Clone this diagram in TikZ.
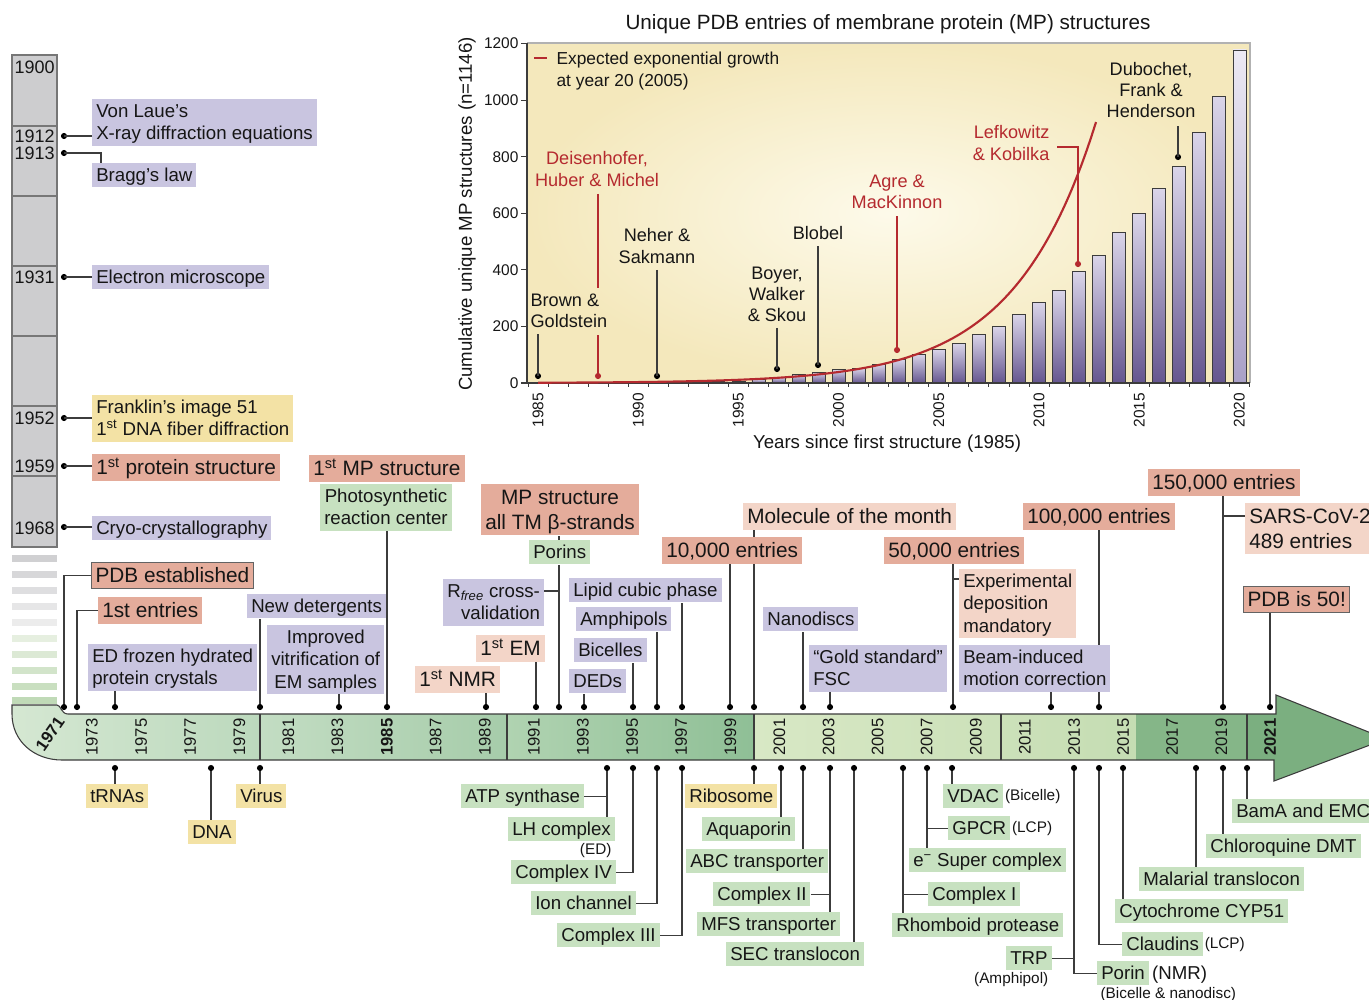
\documentclass[tikz,border=0pt]{standalone}
\usepackage{fontspec}
\setmainfont{Liberation Sans}
\usetikzlibrary{calc}
\pgfdeclarelayer{bottom}
\pgfdeclarelayer{bg}
\pgfsetlayers{bottom,bg,main}
\definecolor{purp}{HTML}{C9C5E0}
\definecolor{salm}{HTML}{E4AC9B}
\definecolor{lsalm}{HTML}{F3D5C8}
\definecolor{yel}{HTML}{F3E2A5}
\definecolor{grn}{HTML}{C7E1C0}
\definecolor{lin}{HTML}{3C3C3C}
\definecolor{txt}{HTML}{161616}
\definecolor{redc}{HTML}{B52A2F}
\definecolor{colgray}{HTML}{CDCDCF}
\definecolor{bandA1}{HTML}{D6E8D3}
\definecolor{bandA2}{HTML}{BCD9BD}
\definecolor{bandB1}{HTML}{C3DDC3}
\definecolor{bandB2}{HTML}{A6CCAA}
\definecolor{bandC1}{HTML}{B0D3B1}
\definecolor{bandC2}{HTML}{8FBF96}
\definecolor{bandD1}{HTML}{D8E8C5}
\definecolor{bandD2}{HTML}{C5DDB3}
\definecolor{bandE}{HTML}{85B688}
\definecolor{bandF}{HTML}{7BAF80}
\definecolor{chartin}{HTML}{FDFAEA}
\definecolor{chartout}{HTML}{F4E8BC}
\definecolor{barT}{HTML}{DAD5E9}
\definecolor{barB}{HTML}{65568F}
\definecolor{barLT}{HTML}{ECE9F3}
\definecolor{barLB}{HTML}{A9A0C7}
\newcommand{\fntN}{\fontsize{14}{16.8}\selectfont}
\newcommand{\fntB}{\fontsize{15.6}{18.7}\selectfont}
\newcommand{\fntS}{\fontsize{11.5}{13}\selectfont}
\newcommand{\fntY}{\fontsize{12.5}{14}\selectfont}
\newcommand{\fntT}{\fontsize{11.6}{13}\selectfont}
\newcommand{\fntC}{\fontsize{13.6}{15.8}\selectfont}
\newcommand{\fntL}{\fontsize{13.5}{15}\selectfont}
\newcommand{\fntG}{\fontsize{13}{16.5}\selectfont}
\newcommand{\topS}{\rule{0pt}{13.2pt}}
\newcommand{\botS}{\rule[-4pt]{0pt}{4pt}}
\newcommand{\topB}{\rule{0pt}{14.9pt}}
\newcommand{\botB}{\rule[-3.8pt]{0pt}{3.8pt}}
\tikzset{
 box/.style={anchor=north west, inner xsep=3pt, inner ysep=0.4pt, font=\fntN, text=txt, align=left,
   execute at begin node={\topS}, execute at end node={\botS}},
 bigbox/.style={box, font=\fntB, inner ysep=0.4pt,
   execute at begin node={\topB}, execute at end node={\botB}},
 pu/.style={box, fill=purp},
 gr/.style={box, fill=grn},
 ye/.style={box, fill=yel},
 sa/.style={bigbox, fill=salm},
 ls/.style={bigbox, fill=lsalm},
 conn/.style={draw=lin, line width=0.9pt},
 dotc/.style={circle, fill=black, inner sep=0pt, minimum size=4.6pt},
 yr/.style={font=\fntY, text=txt, rotate=90, inner sep=0pt},
 small/.style={font=\fntS, text=txt, inner sep=1pt},
 ann/.style={font=\fntC, text=txt, align=center, inner sep=1pt},
 rann/.style={ann, text=redc},
 tick/.style={font=\fntT, text=txt, inner sep=1pt},
 colyr/.style={font=\fntL, text=txt, anchor=east, inner sep=0pt},
 achart/.style={draw=lin, line width=0.8pt},
 rchart/.style={draw=redc, line width=0.8pt},
}
\begin{document}
\begin{tikzpicture}[x=0.75pt,y=-0.75pt]
\useasboundingbox (0,0) rectangle (1369,999);
\begin{pgfonlayer}{bottom}
\fill[white] (0,0) rectangle (1369,999);
\shade[inner color=chartin, outer color=chartout] (527,43) rectangle (1250,383);
\end{pgfonlayer}

% ---------------- left column ----------------
\draw[draw=lin!70, fill=colgray, line width=0.8pt] (12,55) rectangle (57,547);
\foreach \yy in {126,196,266,336,406,476} \draw[lin!70, line width=0.8pt] (12,\yy) -- (57,\yy);
\foreach \yy/\cc in {555/D0D0D2,571/D7D7D9,587/DEDEE0,603/E6E6E7,619/ECECEC,635/E6EFE0,651/DCE9D5,667/D2E4CA,683/C9DFC0,697/C0DAB7}{\definecolor{tmpc}{HTML}{\cc}\fill[tmpc] (12,\yy) rectangle (57,{\yy+7});}
\node[colyr] (c1900) at (55,67) {1900};
\node[colyr] (c1912) at (55,136) {1912};
\node[colyr] (c1913) at (55,153) {1913};
\node[colyr] (c1931) at (55,277) {1931};
\node[colyr] (c1952) at (55,418) {1952};
\node[colyr] (c1959) at (55,466) {1959};
\node[colyr] (c1968) at (55,528) {1968};

\node[pu] (vonlaue) at (92,99) {\topS Von Laue’s\\X-ray diffraction equations\botS};
\node[pu] (bragg) at (92,163) {Bragg’s law};
\node[pu] (electron) at (92,265) {Electron microscope};
\node[ye] (franklin) at (92,395) {\topS Franklin’s image 51\\1\textsuperscript{st} DNA fiber diffraction\botS};
\node[sa] (protein1) at (92,454) {1\textsuperscript{st} protein structure};
\node[pu] (cryo) at (92,516) {Cryo-crystallography};

\node[dotc] (d1912) at (64,136) {};
\node[dotc] (d1913) at (64,153) {};
\node[dotc] (d1931) at (64,277) {};
\node[dotc] (d1952) at (64,418) {};
\node[dotc] (d1959) at (64,466) {};
\node[dotc] (d1968) at (64,527) {};
\coordinate (bk) at (101,153);
\draw[conn] (d1912.center) -- (d1912.center -| vonlaue.west);
\draw[conn] (d1913.center) -- (bk) -- (bk |- bragg.north);
\draw[conn] (d1931.center) -- (d1931.center -| electron.west);
\draw[conn] (d1952.center) -- (d1952.center -| franklin.west);
\draw[conn] (d1959.center) -- (d1959.center -| protein1.west);
\draw[conn] (d1968.center) -- (d1968.center -| cryo.west);

% ---------------- timeline band ----------------
\begin{scope}
\clip (12,705) -- (57,705) .. controls (61,705) and (61,714) .. (68,714) -- (1276,714) -- (1276,695) -- (1386,739) -- (1274,781) -- (1274,760) -- (62,760) .. controls (34,760) and (12,741) .. (12,714) -- cycle;
\shade[left color=bandA1, right color=bandA2] (0,690) rectangle (260,790);
\shade[left color=bandB1, right color=bandB2] (260,690) rectangle (507,790);
\shade[left color=bandC1, right color=bandC2] (507,690) rectangle (754,790);
\shade[left color=bandD1, right color=bandD2] (754,690) rectangle (1136,790);
\fill[bandE] (1136,690) rectangle (1247,790);
\fill[bandF] (1247,690) rectangle (1400,790);
\end{scope}
\draw[lin, line width=0.8pt] (12,705) -- (57,705) .. controls (61,705) and (61,714) .. (68,714) -- (1276,714) -- (1276,695) -- (1386,739) -- (1274,781) -- (1274,760) -- (62,760) .. controls (34,760) and (12,741) .. (12,714) -- cycle;
\foreach \xx in {260,507,754,1001,1247} \draw[lin, line width=0.8pt] (\xx,714) -- (\xx,760);
\foreach \yr in {1973,1975,1977,1979,1981,1983,1987,1989,1991,1993,1995,1997,1999,2001,2003,2005,2007,2009,2011,2013,2015,2017,2019}
  \node[yr] (yr\yr) at ({92+(\yr-1973)*24.55},737) {\yr};
\node[yr, font=\fntY\bfseries] (yr1985) at (387,737) {1985};
\node[yr, font=\fntY\bfseries] (yr2021) at (1270,737) {2021};
\node[font=\fntY\bfseries, text=txt, rotate=55, inner sep=0pt] (yr1971) at (50,734) {1971};

% ---------------- upper boxes ----------------
\node[sa, draw=lin!80, line width=0.8pt] (pdbest) at (91,562) {PDB established};
\node[sa] (entries1) at (98,597) {1st entries};
\node[pu] (edfrozen) at (88,644) {\topS ED frozen hydrated\\protein crystals\botS};
\node[pu] (newdet) at (247,594) {New detergents};
\node[pu, align=center] (improved) at (267,625) {\topS Improved\\vitrification of\\EM samples\botS};
\node[sa] (mp1) at (309,455) {1\textsuperscript{st} MP structure};
\node[gr, align=center] (photo) at (320,484) {\topS Photosynthetic\\reaction center\botS};
\node[ls] (nmr1) at (415,666) {1\textsuperscript{st} NMR};
\node[ls] (em1) at (476,635) {1\textsuperscript{st} EM};
\node[pu, align=right] (rfree) at (443,579) {\topS R\textsubscript{\textit{free}} cross-\\validation\botS};
\node[sa, align=center] (mpbeta) at (481,484) {\topB MP structure\\all TM β-strands\botB};
\node[gr] (porins) at (529,540) {Porins};
\node[pu] (deds) at (569,669) {DEDs};
\node[pu] (bicelles) at (574,638) {Bicelles};
\node[pu] (amphipols) at (576,607) {Amphipols};
\node[pu] (lcp) at (569,578) {Lipid cubic phase};
\node[sa] (e10k) at (662,537) {10,000 entries};
\node[ls] (motm) at (743,503) {Molecule of the month};
\node[pu] (nanodiscs) at (763,607) {Nanodiscs};
\node[pu] (gold) at (809,645) {\topS “Gold standard”\\FSC\botS};
\node[sa] (e50k) at (884,537) {50,000 entries};
\node[box, fill=lsalm] (expdep) at (959,569) {\topS Experimental\\deposition\\mandatory\botS};
\node[pu] (beam) at (959,645) {\topS Beam-induced\\motion correction\botS};
\node[sa] (e100k) at (1023,503) {100,000 entries};
\node[sa] (e150k) at (1148,469) {150,000 entries};
\node[ls] (sars) at (1245,503) {\topB SARS-CoV-2\\489 entries\botB};
\node[sa, draw=lin!80, line width=0.8pt] (pdb50) at (1243,586) {PDB is 50!};

\foreach \xx in {64,77,115,260,339,387,486,536,559,584,633,657,682,730,754,803,830,953,1051,1099,1223,1270}
  \node[dotc] (u\xx) at (\xx,707) {};

% ---------------- lower boxes ----------------
\node[ye] (trna) at (86,784) {tRNAs};
\node[ye] (dna) at (188,820) {DNA};
\node[ye] (virus) at (236,784) {Virus};
\node[gr] (atp) at (461,784) {ATP synthase};
\node[gr] (lh) at (508,817) {LH complex};
\node[small, anchor=north east] (edl) at ($(lh.south east)+(-2,0)$) {(ED)};
\node[gr] (c4) at (511,860) {Complex IV};
\node[gr] (ion) at (531,891) {Ion channel};
\node[gr] (c3) at (557,923) {Complex III};
\node[ye] (ribo) at (685,784) {Ribosome};
\node[gr] (aqua) at (702,817) {Aquaporin};
\node[gr] (abc) at (686,849) {ABC transporter};
\node[gr] (c2) at (713,882) {Complex II};
\node[gr] (mfs) at (697,912) {MFS transporter};
\node[gr] (sec) at (726,942) {SEC translocon};
\node[gr] (vdac) at (943,784) {VDAC};
\node[small, anchor=west] (vdacn) at (vdac.east) {(Bicelle)};
\node[gr] (gpcr) at (948,816) {GPCR};
\node[small, anchor=west] (gpcrn) at (gpcr.east) {(LCP)};
\node[gr] (esuper) at (909,848) {e\textsuperscript{−} Super complex};
\node[gr] (c1) at (928,882) {Complex I};
\node[gr] (rhomb) at (892,913) {Rhomboid protease};
\node[gr] (trp) at (1006,946) {TRP};
\node[small, anchor=north east] (trpn) at ($(trp.south east)+(-2,0)$) {(Amphipol)};
\node[gr] (porin) at (1097,961) {Porin};
\node[box, anchor=west, inner xsep=2pt] (porinn) at (porin.east) {(NMR)};
\node[small, anchor=north west] (porinb) at ($(porin.south west)+(2,0)$) {(Bicelle \& nanodisc)};
\node[gr] (claud) at (1122,932) {Claudins};
\node[small, anchor=west] (claudn) at (claud.east) {(LCP)};
\node[gr] (cyp) at (1115,899) {Cytochrome CYP51};
\node[gr] (malar) at (1139,867) {Malarial translocon};
\node[gr] (chloro) at (1206,834) {Chloroquine DMT};
\node[gr] (bama) at (1232,799) {BamA and EMC};

\foreach \xx in {115,211,260,607,633,657,682,754,781,803,830,854,903,927,952,1074,1099,1123,1196,1223,1247}
  \node[dotc] (l\xx) at (\xx,768) {};

\coordinate (rfj) at (559,591);
\coordinate (edj) at (953,579);
\coordinate (sj) at (1223,516);

\begin{pgfonlayer}{bg}
\draw[conn] (u64.center) |- (pdbest.west);
\draw[conn] (u77.center) |- (entries1.west);
\draw[conn] (u115.center) -- (u115.center |- edfrozen.south);
\draw[conn] (u260.center) -- (u260.center |- newdet.south);
\draw[conn] (u339.center) -- (u339.center |- improved.south);
\draw[conn] (u387.center) -- (u387.center |- photo.south);
\draw[conn] (u486.center) -- (u486.center |- nmr1.south);
\draw[conn] (u536.center) -- (u536.center |- em1.south);
\draw[conn] (u559.center) -- (u559.center |- porins.south);
\draw[conn] (u559.center |- porins.north) -- (u559.center |- mpbeta.south);
\draw[conn] (rfj) -- (rfj -| rfree.east);
\draw[conn] (u584.center) -- (u584.center |- deds.south);
\draw[conn] (u633.center) -- (u633.center |- bicelles.south);
\draw[conn] (u657.center) -- (u657.center |- amphipols.south);
\draw[conn] (u682.center) -- (u682.center |- lcp.south);
\draw[conn] (u730.center) -- (u730.center |- e10k.south);
\draw[conn] (u754.center) -- (u754.center |- motm.south);
\draw[conn] (u803.center) -- (u803.center |- nanodiscs.south);
\draw[conn] (u830.center) -- (u830.center |- gold.south);
\draw[conn] (u953.center) -- (u953.center |- e50k.south);
\draw[conn] (edj) -- (edj -| expdep.west);
\draw[conn] (u1051.center) -- (u1051.center |- beam.south);
\draw[conn] (u1099.center) -- (u1099.center |- e100k.south);
\draw[conn] (u1223.center) -- (u1223.center |- e150k.south);
\draw[conn] (sj) -- (sj -| sars.west);
\draw[conn] (u1270.center) -- (u1270.center |- pdb50.south);
% lower
\draw[conn] (l115.center) -- (l115.center |- trna.north);
\draw[conn] (l211.center) -- (l211.center |- dna.north);
\draw[conn] (l260.center) -- (l260.center |- virus.north);
\draw[conn] (l607.center) -- (l607.center |- lh.north);
\draw[conn] (atp.east) -- (atp.east -| l607.center);
\draw[conn] (l633.center) |- (c4.east);
\draw[conn] (l657.center) |- (ion.east);
\draw[conn] (l682.center) |- (c3.east);
\draw[conn] (l754.center) -- (l754.center |- ribo.north);
\draw[conn] (l781.center) -- (l781.center |- aqua.north);
\draw[conn] (l803.center) -- (l803.center |- abc.north);
\draw[conn] (l830.center) -- (l830.center |- mfs.north);
\draw[conn] (c2.east) -- (c2.east -| l830.center);
\draw[conn] (l854.center) -- (l854.center |- sec.north);
\draw[conn] (l903.center) -- (l903.center |- rhomb.north);
\draw[conn] (c1.west) -- (c1.west -| l903.center);
\draw[conn] (l927.center) -- (l927.center |- esuper.north);
\draw[conn] (gpcr.west) -- (gpcr.west -| l927.center);
\draw[conn] (l952.center) -- (l952.center |- vdac.north);
\draw[conn] (l1074.center) |- (porin.west);
\draw[conn] (trp.east) -- (trp.east -| l1074.center);
\draw[conn] (l1099.center) |- (claud.west);
\draw[conn] (l1123.center) -- (l1123.center |- cyp.north);
\draw[conn] (l1196.center) -- (l1196.center |- malar.north);
\draw[conn] (l1223.center) -- (l1223.center |- chloro.north);
\draw[conn] (l1247.center) -- (l1247.center |- bama.north);
\end{pgfonlayer}

% ---------------- chart ----------------
\node[font=\fontsize{15.5}{18}\selectfont, text=txt] (title) at (888,24) {Unique PDB entries of membrane protein (MP) structures};
\node[font=\fntN, text=txt, rotate=90] (ylab) at (467,214) {Cumulative unique MP structures (n=1146)};
\node[font=\fntN, text=txt] (xlab) at (887,444) {Years since first structure (1985)};

\foreach \yr/\tp in {1993/382.3,1994/381.8,1995/381,1996/379,1997/377,1998/374.5,1999/372,2000/369.5,2001/368,2002/364,2003/359,2004/354,2005/349,2006/343,2007/334,2008/326,2009/314,2010/302,2011/290,2012/271,2013/255,2014/232,2015/213,2016/188,2017/166,2018/132,2019/96} {
  \pgfmathsetmacro\bx{538+(\yr-1985)*20.04}
  \shade[top color=barT, bottom color=barB] (\bx-6.5,\tp) rectangle (\bx+6.5,383);
  \draw[lin, line width=0.6pt] (\bx-6.5,\tp) rectangle (\bx+6.5,383);
}
\shade[top color=barLT, bottom color=barLB] (1232.9,50) rectangle (1245.9,383);
\draw[lin, line width=0.6pt] (1232.9,50) rectangle (1245.9,383);

\draw[gray!60, line width=0.8pt] (527,43) -- (1250,43) -- (1250,383);
\draw[lin, line width=0.9pt] (527,43) -- (527,383) -- (1250,383);
\foreach \v in {0,200,400,600,800,1000,1200} {
  \draw[lin, line width=0.8pt] (521,{383-\v*0.2829}) -- (527,{383-\v*0.2829});
  \node[tick, anchor=east] (yt\v) at (520,{383-\v*0.2829}) {\v};
}
\foreach \i in {0,...,36} \draw[lin, line width=0.7pt] ({528+\i*20.04},383) -- ({528+\i*20.04},387);
\foreach \yr in {1985,1990,1995,2000,2005,2010,2015,2020}
  \node[tick, rotate=90] (xt\yr) at ({538+(\yr-1985)*20.04},410) {\yr};

\draw[redc, line width=1.6pt, domain=538:1096, samples=120, smooth] plot (\x,{383-0.273*exp(0.0123*(\x-538))});

\draw[redc, line width=2.2pt] (534,58) -- (547,58);
\node[font=\fntG, text=txt, align=left, anchor=north west, inner sep=1pt] (legend) at (555,50) {Expected exponential growth\\at year 20 (2005)};

\node[ann, align=left, anchor=west] (brown) at (529,311) {Brown \&\\Goldstein};
\node[dotc] (dbrown) at (538,376) {};
\draw[achart] ($(dbrown.center |- brown.south)+(0,5)$) -- (dbrown.center);

\node[rann] (deis) at (597,169) {Deisenhofer,\\Huber \& Michel};
\node[dotc, fill=redc] (ddeis) at (598,376) {};
\coordinate (dgA) at (598,288);
\coordinate (dgB) at (598,335);
\draw[rchart] ($(ddeis.center |- deis.south)+(0,6)$) -- (dgA);
\draw[rchart] (dgB) -- (ddeis.center);

\node[ann] (neher) at (657,246) {Neher \&\\Sakmann};
\node[dotc] (dneher) at (657,376) {};
\draw[achart] ($(dneher.center |- neher.south)+(0,5)$) -- (dneher.center);

\node[ann] (boyer) at (777,294) {Boyer,\\Walker\\\& Skou};
\node[dotc] (dboyer) at (777,369) {};
\draw[achart] ($(dboyer.center |- boyer.south)+(0,5)$) -- (dboyer.center);

\node[ann] (blobel) at (818,233) {Blobel};
\node[dotc] (dblobel) at (818,365) {};
\draw[achart] ($(dblobel.center |- blobel.south)+(0,5)$) -- (dblobel.center);

\node[rann] (agre) at (897,192) {Agre \&\\MacKinnon};
\node[dotc, fill=redc] (dagre) at (897,350) {};
\draw[rchart] ($(dagre.center |- agre.south)+(0,6)$) -- (dagre.center);

\node[rann, align=right, anchor=east] (lefk) at (1051,143) {Lefkowitz\\\& Kobilka};
\node[dotc, fill=redc] (dlefk) at (1078,264) {};
\draw[rchart] ($(lefk.east)+(6,4)$) -| (dlefk.center);

\node[ann] (dub) at (1151,90) {Dubochet,\\Frank \&\\Henderson};
\node[dotc] (ddub) at (1178,157) {};
\draw[achart] ($(ddub.center |- dub.south)+(0,7)$) -- (ddub.center);
\end{tikzpicture}
\end{document}
